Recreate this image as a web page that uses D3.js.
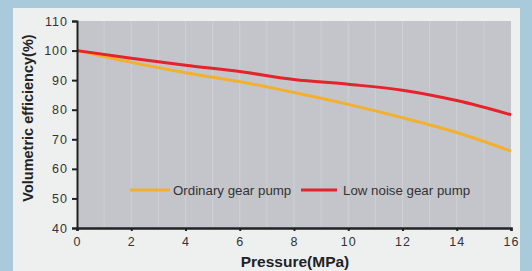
<!DOCTYPE html>
<html>
<head>
<meta charset="utf-8">
<script src="https://cdn.jsdelivr.net/npm/d3@7"></script>
<style>
  body { margin: 0; background: #a9cadb; }
  text { font-family: "Liberation Sans", Arial, sans-serif; }
</style>
</head>
<body>
<div id="chart"></div>
<script>
// chart data
const pressure = [0, 2, 4, 6, 8, 10, 12, 14, 16];
const ordinaryPump = [100, 96, 92.5, 89.5, 85.8, 81.8, 77.3, 72.3, 66];
const lowNoisePump = [100, 97.4, 95, 92.9, 90.2, 88.6, 86.6, 83.1, 78.3];
const xTicks = [0, 2, 4, 6, 8, 10, 12, 14, 16];
const yTicks = [40, 50, 60, 70, 80, 90, 100, 110];
const seriesNames = ['Ordinary gear pump', 'Low noise gear pump'];

const svgWidth = 532;
const svgHeight = 271;
const margin = { top: 21, right: 21, bottom: 43, left: 77 };
const width = svgWidth - margin.left - margin.right;
const height = svgHeight - margin.top - margin.bottom;

const svg = d3.select('#chart')
  .append('svg')
  .attr('width', svgWidth)
  .attr('height', svgHeight);

// light panel behind the chart
svg.append('rect')
  .attr('x', 13)
  .attr('y', 8)
  .attr('width', 507)
  .attr('height', 270)
  .attr('fill', '#eef0f0');

const chartGroup = svg.append('g')
  .attr('transform', `translate(${margin.left}, ${margin.top})`);

const xScale = d3.scaleLinear().domain([0, 16]).range([0, width]);
const yScale = d3.scaleLinear().domain([40, 110]).range([height, 0]);

// gray plot area
chartGroup.append('rect')
  .attr('width', width)
  .attr('height', height)
  .attr('fill', '#c4c5ca');

// faint vertical grid lines
chartGroup.selectAll('.grid')
  .data(d3.range(1, 16))
  .enter()
  .append('line')
  .attr('x1', d => xScale(d))
  .attr('x2', d => xScale(d))
  .attr('y1', 0)
  .attr('y2', height)
  .attr('stroke', '#cfd0d4')
  .attr('stroke-width', 1);

const line = d3.line()
  .x((d, i) => xScale(pressure[i]))
  .y(d => yScale(d))
  .curve(d3.curveMonotoneX);

chartGroup.append('path')
  .datum(ordinaryPump)
  .attr('fill', 'none')
  .attr('stroke', '#f2b02e')
  .attr('stroke-width', 3)
  .attr('d', line);

chartGroup.append('path')
  .datum(lowNoisePump)
  .attr('fill', 'none')
  .attr('stroke', '#e6222b')
  .attr('stroke-width', 3)
  .attr('d', line);

// axes
const leftAxis = d3.axisLeft(yScale)
  .tickValues(yTicks)
  .tickSize(5)
  .tickPadding(4);
const bottomAxis = d3.axisBottom(xScale)
  .tickValues(xTicks)
  .tickSize(3)
  .tickPadding(6);

const yAxis = chartGroup.append('g').call(leftAxis);
const xAxis = chartGroup.append('g')
  .attr('transform', `translate(0, ${height})`)
  .call(bottomAxis);

[yAxis, xAxis].forEach(ax => {
  ax.select('.domain').attr('stroke', '#222').attr('stroke-width', 2);
  ax.selectAll('.tick line').attr('stroke', '#222').attr('stroke-width', 2);
  ax.selectAll('.tick text')
    .attr('fill', '#333')
    .attr('font-size', '12.5px')
    .attr('letter-spacing', '1px');
});
xAxis.select('.domain').attr('stroke-width', 2.5);

// legend
const legend = chartGroup.append('g')
  .attr('transform', 'translate(0, 169)');
const legendColors = ['#f2b02e', '#e6222b'];
const legendX = [[53, 93, 96], [224, 260, 266]];
seriesNames.forEach((name, i) => {
  legend.append('line')
    .attr('x1', legendX[i][0])
    .attr('x2', legendX[i][1])
    .attr('stroke', legendColors[i])
    .attr('stroke-width', 3);
  legend.append('text')
    .attr('x', legendX[i][2])
    .attr('dy', '0.35em')
    .attr('font-size', '13.3px')
    .attr('fill', '#333')
    .text(name);
});

// axis titles
chartGroup.append('text')
  .attr('x', width / 2 + 1)
  .attr('y', height + 39)
  .attr('text-anchor', 'middle')
  .attr('font-size', '15.5px')
  .attr('font-weight', 'bold')
  .attr('fill', '#222')
  .text('Pressure(MPa)');

chartGroup.append('text')
  .attr('transform', `translate(-44, ${118 - margin.top}) rotate(-90)`)
  .attr('text-anchor', 'middle')
  .attr('font-size', '14.5px')
  .attr('font-weight', 'bold')
  .attr('fill', '#222')
  .text('Volumetric efficiency(%)');
</script>
</body>
</html>
